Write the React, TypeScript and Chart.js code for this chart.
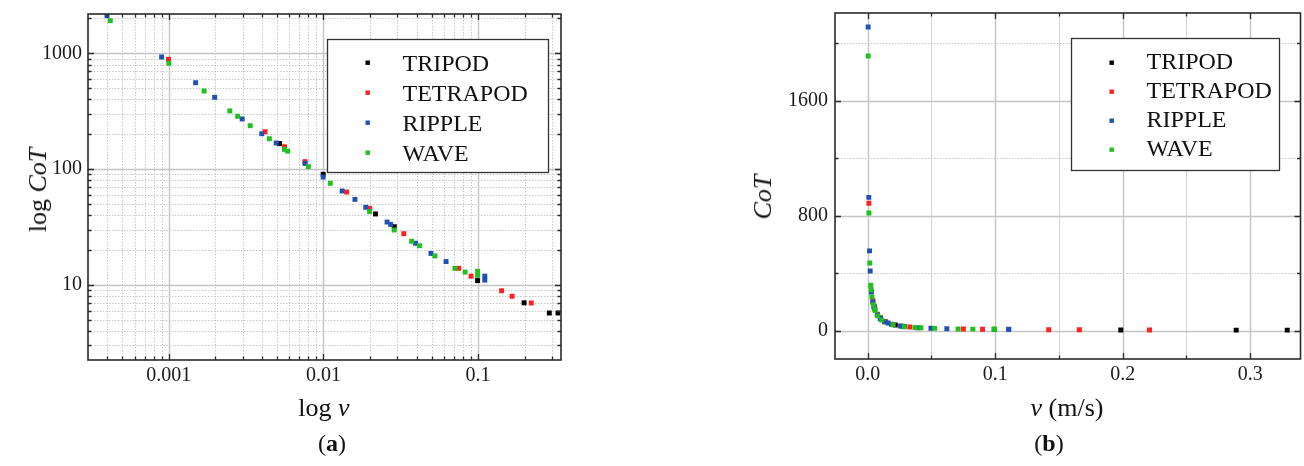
import React, { useEffect, useRef } from "react";
import { Chart, registerables } from "chart.js";

Chart.register(...registerables);

const FONT = '"Liberation Serif", "Times New Roman", serif';

const SERIES_NAMES = ["TRIPOD", "TETRAPOD", "RIPPLE", "WAVE"];
const SERIES_COLORS = ["#000000", "#ff2020", "#2152b3", "#20c020"];

// speed v (m/s) and cost of transport for each gait
const TRIPOD_V = [0.0052, 0.00996, 0.0217, 0.0287, 0.0993, 0.1985, 0.289, 0.329];
const TRIPOD_COT = [166, 90.2, 41, 31.8, 10.9, 7.0, 5.72, 5.72];

const TETRAPOD_V = [0.000995, 0.00419, 0.0056, 0.0076, 0.01413, 0.0199, 0.0331, 0.0751, 0.0901, 0.142, 0.166, 0.221];
const TETRAPOD_COT = [888, 210, 156, 116, 63.4, 45.9, 27.7, 13.9, 11.9, 8.9, 7.98, 6.98];

const RIPPLE_V = [0.000398, 0.000898, 0.00149, 0.00198, 0.00298, 0.00399, 0.00495, 0.0076, 0.00996, 0.01321, 0.01599, 0.01878, 0.0258, 0.0272, 0.0394, 0.0496, 0.0621, 0.1106, 0.1106];
const RIPPLE_COT = [2113, 929, 557, 417, 271, 202, 168, 112, 85.3, 64.7, 54.8, 46.8, 34.9, 33.3, 22.9, 18.7, 15.9, 11.9, 11.0];

const WAVE_V = [0.000418, 0.001, 0.00169, 0.00248, 0.00279, 0.00336, 0.00447, 0.0056, 0.00587, 0.00799, 0.01108, 0.0199, 0.0287, 0.0372, 0.0418, 0.0526, 0.0709, 0.0825, 0.0993, 0.0993];
const WAVE_COT = [1912, 820, 473, 318, 286, 237, 183, 148, 143, 105, 75.4, 42.9, 29.8, 23.8, 21.8, 17.8, 13.9, 12.9, 13.1, 12.1];

const SERIES_V = [TRIPOD_V, TETRAPOD_V, RIPPLE_V, WAVE_V];
const SERIES_COT = [TRIPOD_COT, TETRAPOD_COT, RIPPLE_COT, WAVE_COT];

// tick labels
const LOG_X_MAJOR = [0.001, 0.01, 0.1];
const LOG_X_LABELS = ["0.001", "0.01", "0.1"];
const LOG_Y_MAJOR = [10, 100, 1000];
const LOG_Y_LABELS = ["10", "100", "1000"];
const LIN_X_MAJOR = [0, 0.1, 0.2, 0.3];
const LIN_X_LABELS = ["0.0", "0.1", "0.2", "0.3"];
const LIN_X_MINOR = [0.05, 0.15, 0.25];
const LIN_Y_MAJOR = [0, 800, 1600];
const LIN_Y_LABELS = ["0", "800", "1600"];
const LIN_Y_MINOR = [400, 1200, 2000];

function findIdx(v: number, arr: number[], log: boolean) {
  return arr.findIndex((m) => (log ? Math.abs(v / m - 1) < 1e-6 : Math.abs(v - m) < 1e-9));
}

function logTicks(min: number, max: number) {
  const out: number[] = [];
  for (let e = Math.floor(Math.log10(min)); e <= Math.ceil(Math.log10(max)); e++) {
    for (let m = 1; m <= 9; m++) {
      const v = m * Math.pow(10, e);
      if (v >= min && v <= max) out.push(v);
    }
  }
  return out;
}

function makePlugin(cfg: any) {
  return {
    id: "frameGrid" + cfg.key,
    beforeDatasetsDraw(chart: any) {
      const { ctx, chartArea: a } = chart;
      ctx.save();
      ctx.beginPath();
      ctx.rect(a.left, a.top, a.right - a.left, a.bottom - a.top);
      ctx.clip();
      for (const id of ["x", "y"]) {
        const s = chart.scales[id];
        const majors = id === "x" ? cfg.xMajor : cfg.yMajor;
        for (const t of s.ticks) {
          const p = Math.round(s.getPixelForValue(t.value)) + 0.5;
          const major = findIdx(t.value, majors, cfg.log) >= 0;
          const dotted = !major && cfg.dotted[id];
          ctx.strokeStyle = major ? "#c4c4c4" : dotted ? "#c9c9c9" : "#d4d4d4";
          ctx.lineWidth = major ? 1.4 : 1;
          ctx.setLineDash(dotted ? [1.5, 1.5] : []);
          ctx.beginPath();
          if (id === "x") {
            ctx.moveTo(p, a.top);
            ctx.lineTo(p, a.bottom);
          } else {
            ctx.moveTo(a.left, p);
            ctx.lineTo(a.right, p);
          }
          ctx.stroke();
        }
      }
      ctx.restore();
    },
    afterDatasetsDraw(chart: any) {
      const { ctx, chartArea: a } = chart;
      ctx.save();
      ctx.setLineDash([]);
      ctx.strokeStyle = "#2a2a2a";
      ctx.lineWidth = 1.3;
      for (const id of ["x", "y"]) {
        const s = chart.scales[id];
        const majors = id === "x" ? cfg.xMajor : cfg.yMajor;
        for (const t of s.ticks) {
          const p = Math.round(s.getPixelForValue(t.value)) + 0.5;
          if (id === "x" && (p < a.left + 1 || p > a.right - 1)) continue;
          if (id === "y" && (p < a.top + 1 || p > a.bottom - 1)) continue;
          const len = findIdx(t.value, majors, cfg.log) >= 0 ? 6 : 3.5;
          ctx.beginPath();
          if (id === "x") {
            ctx.moveTo(p, a.bottom);
            ctx.lineTo(p, a.bottom - len);
            ctx.moveTo(p, a.top);
            ctx.lineTo(p, a.top + len);
          } else {
            ctx.moveTo(a.left, p);
            ctx.lineTo(a.left + len, p);
            ctx.moveTo(a.right, p);
            ctx.lineTo(a.right - len, p);
          }
          ctx.stroke();
        }
      }
      // frame
      ctx.lineWidth = 1.6;
      ctx.strokeRect(a.left, a.top, a.right - a.left, a.bottom - a.top);
      // legend
      const L = cfg.legend;
      const bx = Math.round(a.right - L.right - L.w) + 0.5;
      const by = Math.round(a.top + L.top) + 0.5;
      ctx.fillStyle = "#ffffff";
      ctx.fillRect(bx, by, L.w, L.h);
      ctx.strokeStyle = "#333333";
      ctx.lineWidth = 1.3;
      ctx.strokeRect(bx, by, L.w, L.h);
      ctx.font = `24px ${FONT}`;
      ctx.textBaseline = "alphabetic";
      ctx.textAlign = "left";
      SERIES_NAMES.forEach((name, i) => {
        const cy = by + L.row0 + i * L.gap;
        ctx.fillStyle = SERIES_COLORS[i];
        ctx.fillRect(bx + 40 - 2, cy - 2, 4.4, 4.4);
        ctx.fillStyle = "#111111";
        ctx.fillText(name, bx + 75, cy + L.textDy);
      });
      ctx.restore();
    },
  };
}

function datasets() {
  return SERIES_NAMES.map((name, i) => ({
    label: name,
    data: SERIES_V[i].map((v, j) => ({ x: v, y: SERIES_COT[i][j] })),
    backgroundColor: SERIES_COLORS[i],
    borderColor: SERIES_COLORS[i],
    borderWidth: 0,
    pointStyle: "rect",
    pointRadius: 3.5,
    pointHoverRadius: 3.5,
    order: 4 - i,
  }));
}

function axis(opts: any) {
  const { type, min, max, tickValues, majors, labels, log, fixed, vertical, padding } = opts;
  return {
    type,
    min,
    max,
    position: vertical ? "left" : "bottom",
    grid: { display: false, drawTicks: false },
    border: { display: false },
    ticks: {
      autoSkip: false,
      maxRotation: 0,
      minRotation: 0,
      padding,
      color: "#1a1a1a",
      font: { family: FONT, size: 20 },
      callback: (value: number) => {
        const k = findIdx(value, majors, log);
        return k >= 0 ? labels[k] : [];
      },
    },
    afterBuildTicks: (scale: any) => {
      scale.ticks = tickValues.map((v: number) => ({ value: v }));
    },
    afterFit: (scale: any) => {
      if (vertical) scale.width = fixed;
      else scale.height = fixed;
      scale.paddingTop = 0;
      scale.paddingBottom = 0;
      scale.paddingLeft = 0;
      scale.paddingRight = 0;
    },
  };
}

const LEFT_X_MIN = 3.37e-4;
const LEFT_X_MAX = 0.344;
const LEFT_Y_MIN = 2.246;
const LEFT_Y_MAX = 2185;
const RIGHT_X_MIN = -0.0256;
const RIGHT_X_MAX = 0.3394;
const RIGHT_Y_MIN = -195;
const RIGHT_Y_MAX = 2211;

export default function App() {
  const leftRef = useRef<HTMLCanvasElement>(null);
  const rightRef = useRef<HTMLCanvasElement>(null);

  useEffect(() => {
    const left = new Chart(leftRef.current as HTMLCanvasElement, {
      type: "scatter",
      data: { datasets: datasets() as any },
      options: {
        animation: false,
        responsive: false,
        events: [],
        layout: { padding: { left: 0, top: 14, right: 39, bottom: 0 } },
        plugins: { legend: { display: false }, tooltip: { enabled: false } },
        scales: {
          x: axis({
            type: "logarithmic", min: LEFT_X_MIN, max: LEFT_X_MAX,
            tickValues: logTicks(LEFT_X_MIN, LEFT_X_MAX), majors: LOG_X_MAJOR, labels: LOG_X_LABELS,
            log: true, fixed: 106, vertical: false, padding: 4,
          }),
          y: axis({
            type: "logarithmic", min: LEFT_Y_MIN, max: LEFT_Y_MAX,
            tickValues: logTicks(LEFT_Y_MIN, LEFT_Y_MAX), majors: LOG_Y_MAJOR, labels: LOG_Y_LABELS,
            log: true, fixed: 88, vertical: true, padding: 6,
          }),
        } as any,
      },
      plugins: [
        makePlugin({
          key: "L", log: true, xMajor: LOG_X_MAJOR, yMajor: LOG_Y_MAJOR,
          dotted: { x: true, y: true },
          legend: { right: 13, top: 25, w: 221, h: 133, row0: 23, gap: 30, textDy: 8 },
        }),
      ],
    } as any);

    const right = new Chart(rightRef.current as HTMLCanvasElement, {
      type: "scatter",
      data: { datasets: datasets() as any },
      options: {
        animation: false,
        responsive: false,
        events: [],
        layout: { padding: { left: 0, top: 13, right: 3, bottom: 0 } },
        plugins: { legend: { display: false }, tooltip: { enabled: false } },
        scales: {
          x: axis({
            type: "linear", min: RIGHT_X_MIN, max: RIGHT_X_MAX,
            tickValues: [...LIN_X_MAJOR, ...LIN_X_MINOR].sort((p, q) => p - q), majors: LIN_X_MAJOR, labels: LIN_X_LABELS,
            log: false, fixed: 107, vertical: false, padding: 4,
          }),
          y: axis({
            type: "linear", min: RIGHT_Y_MIN, max: RIGHT_Y_MAX,
            tickValues: [...LIN_Y_MAJOR, ...LIN_Y_MINOR].sort((p, q) => p - q), majors: LIN_Y_MAJOR, labels: LIN_Y_LABELS,
            log: false, fixed: 185, vertical: true, padding: 7,
          }),
        } as any,
      },
      plugins: [
        makePlugin({
          key: "R", log: false, xMajor: LIN_X_MAJOR, yMajor: LIN_Y_MAJOR,
          dotted: { x: false, y: true },
          legend: { right: 22, top: 25, w: 208, h: 132, row0: 24, gap: 29, textDy: 6 },
        }),
      ],
    } as any);

    return () => {
      left.destroy();
      right.destroy();
    };
  }, []);

  const text: React.CSSProperties = {
    position: "absolute",
    whiteSpace: "nowrap",
    fontFamily: FONT,
    color: "#111",
    lineHeight: 1,
  };

  return (
    <div style={{ position: "absolute", left: 0, top: 0, width: 1304, height: 466, background: "#fff", overflow: "hidden" }}>
      <canvas ref={leftRef} width={600} height={466} style={{ position: "absolute", left: 0, top: 0, display: "block" }} />
      <canvas ref={rightRef} width={654} height={466} style={{ position: "absolute", left: 650, top: 0, display: "block" }} />
      <div style={{ ...text, fontSize: 26, left: 38, top: 190, transform: "translate(-50%,-50%) rotate(-90deg)" }}>
        log <i>CoT</i>
      </div>
      <div style={{ ...text, fontSize: 26, left: 324, top: 408, transform: "translate(-50%,-50%)" }}>
        log <i>v</i>
      </div>
      <div style={{ ...text, fontSize: 24, left: 332, top: 443, transform: "translate(-50%,-50%)" }}>
        (<b>a</b>)
      </div>
      <div style={{ ...text, fontSize: 26, left: 763, top: 197, transform: "translate(-50%,-50%) rotate(-90deg)" }}>
        <i>CoT</i>
      </div>
      <div style={{ ...text, fontSize: 26, left: 1067, top: 408, transform: "translate(-50%,-50%)" }}>
        <i>v</i> (m/s)
      </div>
      <div style={{ ...text, fontSize: 24, left: 1049, top: 443, transform: "translate(-50%,-50%)" }}>
        (<b>b</b>)
      </div>
    </div>
  );
}
